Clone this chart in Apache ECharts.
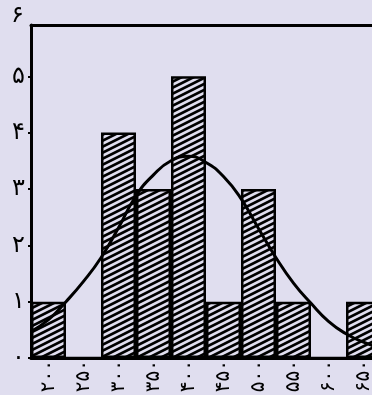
<!DOCTYPE html>
<html>
<head>
<meta charset="utf-8">
<script src="https://cdn.jsdelivr.net/npm/echarts@6/dist/echarts.min.js"></script>
<style>
  html, body { margin: 0; padding: 0; background: #e0deef; }
  #chart { width: 372px; height: 395px; }
</style>
</head>
<body>
<div id="chart"></div>
<script>
// bins (centres) and counts
var categories = ['۲۰۰', '۲۵۰', '۳۰۰', '۳۵۰', '۴۰۰', '۴۵۰', '۵۰۰', '۵۵۰', '۶۰۰', '۶۵۰'];
var counts = [1, 0, 4, 3, 5, 1, 3, 1, 0, 1];
var yLabels = ['۰', '۱', '۲', '۳', '۴', '۵', '۶'];

// fitted curve
var curveX = [175, 200, 225, 250, 275, 300, 325, 350, 375, 400, 425, 450, 475, 500, 525, 550, 575, 600, 625, 650, 675];
var curveY = [0.47, 0.68, 1.0, 1.36, 1.78, 2.31, 2.88, 3.25, 3.5, 3.58, 3.47, 3.22, 2.83, 2.3, 1.78, 1.33, 0.97, 0.65, 0.43, 0.28, 0.18];

// hatch pattern
function hatch() {
  var w = 12, h = 6;
  var c = document.createElement('canvas');
  c.width = w; c.height = 2 * h;
  var ctx = c.getContext('2d');
  ctx.fillStyle = '#e0deef';
  ctx.fillRect(0, 0, w, 2 * h);
  ctx.strokeStyle = '#000';
  ctx.lineWidth = 2.7;
  [-h, 0, h, 2 * h].forEach(function (dy) {
    ctx.beginPath();
    ctx.moveTo(-w, 2 * h + dy);
    ctx.lineTo(2 * w, -h + dy);
    ctx.stroke();
  });
  return c;
}

var myChart = echarts.init(document.getElementById('chart'));
myChart.setOption({
  backgroundColor: '#e0deef',
  animation: false,
  grid: { left: 31, width: 350, top: 25, bottom: 37, containLabel: false, outerBoundsMode: 'none' },
  graphic: [{
    type: 'text',
    left: 11,
    top: 4,
    style: { text: yLabels[6], fill: '#000', font: '24px "DejaVu Sans"' }
  }],
  xAxis: [
    {
      type: 'category',
      data: categories,
      boundaryGap: true,
      axisLine: { show: true, lineStyle: { color: '#000', width: 3 } },
      axisTick: { show: false },
      axisLabel: {
        rotate: 90,
        margin: 2,
        color: '#000',
        fontSize: 20,
        fontFamily: 'DejaVu Sans'
      },
      splitLine: { show: false }
    },
    {
      type: 'value',
      position: 'top',
      min: 175,
      max: 675,
      axisLine: { show: true, lineStyle: { color: '#000', width: 3 } },
      axisTick: { show: false },
      axisLabel: { show: false },
      splitLine: { show: false }
    }
  ],
  yAxis: {
    type: 'value',
    min: 0,
    max: 5.91,
    interval: 1,
    axisLine: { show: true, lineStyle: { color: '#000', width: 3 } },
    axisTick: { show: true, length: 3, lineStyle: { color: '#000', width: 2 } },
    axisLabel: {
      margin: 6,
      color: '#000',
      fontSize: 24,
      fontFamily: 'DejaVu Sans',
      showMaxLabel: false,
      formatter: function (v) { return yLabels[v] || ''; }
    },
    splitLine: { show: false }
  },
  series: [
    {
      type: 'bar',
      xAxisIndex: 0,
      data: counts,
      barCategoryGap: '0%',
      itemStyle: {
        color: { image: hatch(), repeat: 'repeat' },
        borderColor: '#000',
        borderWidth: 2.5
      }
    },
    {
      type: 'line',
      xAxisIndex: 1,
      z: 5,
      smooth: true,
      symbol: 'none',
      data: curveX.map(function (x, i) { return [x, curveY[i]]; }),
      lineStyle: { color: '#000', width: 3 }
    }
  ]
});
</script>
</body>
</html>
